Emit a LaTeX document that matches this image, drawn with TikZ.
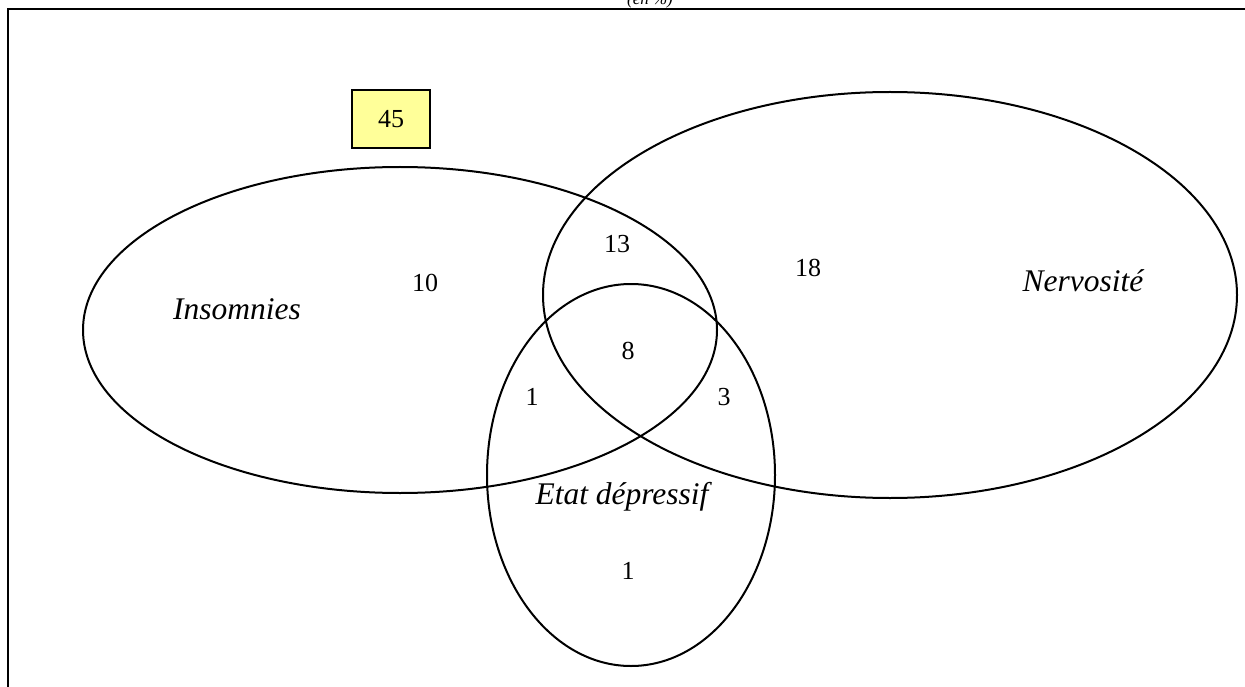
\documentclass[tikz,border=0pt]{standalone}
\usepackage{fontspec}
\setmainfont{Liberation Serif}
\definecolor{boxyellow}{HTML}{FFFF99}
\begin{document}
\begin{tikzpicture}[x=1pt,y=-1pt,
  ring/.style={draw=black,line width=2pt},
  setname/.style={font=\fontsize{31.5}{34}\selectfont\itshape,inner sep=0pt},
  count/.style={font=\fontsize{26}{30}\selectfont,inner sep=0pt},
  totalbox/.style={draw=black,fill=boxyellow,line width=1.5pt,minimum width=78pt,minimum height=58pt,inner sep=0pt,font=\fontsize{26}{30}\selectfont}]
\useasboundingbox (0,0) rectangle (1245,687);
\clip (0,0) rectangle (1245,687);
% frame (top and left edges)
\draw[line width=2.8pt] (8,687) -- (8,9) -- (1245,9);
\node[font=\fontsize{17}{19}\selectfont\itshape,anchor=base,inner sep=0pt] (unit) at (650,5) {(en \%)};
% sets
\draw[ring] (400,330) ellipse [x radius=317, y radius=163];
\draw[ring] (890,295) ellipse [x radius=347, y radius=203];
\draw[ring] (631,475) ellipse [x radius=144, y radius=191];
% total
\node[totalbox] (total) at (391,119) {45};
% set names
\node[setname] (ins) at (237,309) {Insomnies};
\node[setname] (nerv) at (1083,281) {Nervosité};
\node[setname] (dep) at (622,497) {Etat dépressif};
% counts
\node[count] (c10) at (425,283) {10};
\node[count] (c13) at (617,244) {13};
\node[count] (c18) at (808,268) {18};
\node[count] (c8) at (628,351) {8};
\node[count] (c1a) at (532,397) {1};
\node[count] (c3) at (724,397) {3};
\node[count] (c1b) at (628,571) {1};
\end{tikzpicture}
\end{document}
